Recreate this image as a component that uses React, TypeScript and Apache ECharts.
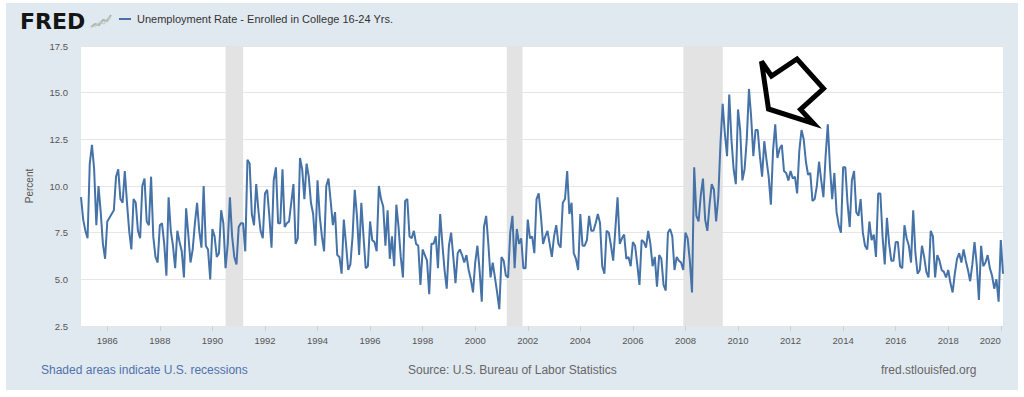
import React, { useEffect, useRef } from "react";
import * as echarts from "echarts";

// Monthly values (percent), Jan..Dec per year
const y1985 = [9.4, 8.2, 7.6, 7.2, 11.2, 12.2, 10.9, 7.9, 10.0, 8.6, 6.9, 6.1];
const y1986 = [8.1, 8.3, 8.5, 8.7, 10.5, 10.9, 9.3, 9.1, 10.8, 9.1, 7.6, 6.6];
const y1987 = [9.3, 9.1, 7.6, 7.2, 10.0, 10.4, 8.1, 7.9, 10.5, 7.3, 6.2, 5.9];
const y1988 = [7.9, 8.0, 6.9, 5.2, 9.4, 7.6, 6.8, 5.6, 7.6, 7.0, 6.5, 5.1];
const y1989 = [8.8, 7.4, 5.9, 6.6, 8.0, 9.1, 7.6, 6.7, 10.0, 6.8, 6.6, 5.0];
const y1990 = [7.7, 7.3, 6.2, 6.4, 8.7, 8.0, 5.6, 6.9, 9.4, 7.3, 6.2, 5.8];
const y1991 = [7.8, 8.0, 8.0, 6.5, 11.4, 11.2, 8.5, 7.9, 10.1, 8.7, 7.6, 7.2];
const y1992 = [9.6, 9.8, 8.4, 6.7, 10.3, 11.0, 8.0, 8.0, 10.9, 7.8, 8.0, 8.1];
const y1993 = [9.1, 10.1, 6.9, 7.2, 11.5, 10.9, 9.3, 11.2, 10.5, 9.1, 8.5, 6.8];
const y1994 = [10.3, 8.4, 7.3, 6.5, 10.0, 10.4, 9.2, 7.9, 8.6, 6.3, 6.2, 5.3];
const y1995 = [8.2, 6.9, 5.5, 5.8, 7.3, 9.8, 8.4, 6.3, 9.1, 7.3, 5.6, 5.7];
const y1996 = [8.1, 7.1, 7.0, 6.5, 10.0, 9.3, 8.9, 6.8, 8.7, 6.1, 7.3, 5.7];
const y1997 = [9.0, 7.8, 6.2, 5.1, 9.2, 9.3, 7.3, 7.2, 7.6, 6.9, 6.8, 4.7];
const y1998 = [6.6, 6.3, 6.0, 4.2, 6.9, 6.9, 7.3, 5.6, 8.5, 6.9, 5.5, 4.5];
const y1999 = [6.8, 7.5, 6.2, 4.8, 6.4, 6.6, 6.3, 5.9, 6.3, 5.5, 5.0, 4.3];
const y2000 = [5.9, 6.8, 5.5, 3.8, 7.8, 8.4, 6.9, 5.1, 5.9, 5.1, 4.3, 3.4];
const y2001 = [6.2, 6.0, 5.2, 5.1, 7.5, 8.4, 5.6, 7.7, 6.9, 7.2, 5.6, 5.6];
const y2002 = [8.2, 7.2, 7.3, 6.4, 9.3, 9.6, 8.4, 6.9, 7.3, 7.6, 6.9, 6.2];
const y2003 = [7.3, 7.9, 6.9, 6.7, 9.1, 9.3, 10.8, 8.5, 9.1, 6.4, 6.1, 5.5];
const y2004 = [8.5, 6.8, 6.8, 7.1, 8.4, 7.6, 7.6, 8.0, 8.5, 8.0, 5.7, 5.3];
const y2005 = [7.6, 7.5, 6.8, 6.0, 7.7, 9.4, 6.9, 7.2, 7.4, 6.1, 6.2, 5.7];
const y2006 = [7.0, 6.8, 5.8, 4.7, 7.1, 7.0, 6.7, 7.6, 6.9, 5.7, 6.2, 4.6];
const y2007 = [6.3, 6.1, 4.7, 4.4, 7.5, 7.7, 7.3, 5.5, 6.2, 6.0, 5.9, 5.5];
const y2008 = [7.5, 7.2, 6.0, 4.3, 11.0, 8.4, 8.1, 9.5, 10.4, 8.2, 7.6, 9.0];
const y2009 = [10.1, 9.8, 8.1, 9.4, 12.3, 14.4, 12.8, 11.6, 14.9, 12.5, 10.9, 10.1];
const y2010 = [14.1, 13.0, 10.3, 10.9, 12.5, 15.2, 13.7, 11.6, 13.0, 13.0, 11.6, 10.5];
const y2011 = [12.4, 11.4, 10.5, 9.0, 11.9, 13.3, 11.5, 12.0, 12.2, 10.8, 10.7, 10.3];
const y2012 = [10.8, 10.4, 10.5, 9.6, 11.9, 13.0, 12.5, 11.3, 10.6, 10.7, 9.2, 9.3];
const y2013 = [10.0, 11.3, 10.3, 9.4, 11.6, 13.3, 11.0, 9.3, 10.7, 8.6, 7.9, 7.5];
const y2014 = [11.0, 11.0, 9.1, 7.8, 10.3, 10.8, 8.6, 8.4, 9.3, 7.5, 6.8, 6.6];
const y2015 = [8.1, 7.1, 7.4, 6.2, 9.6, 9.6, 7.3, 5.8, 8.3, 6.9, 6.0, 6.0];
const y2016 = [7.0, 7.0, 5.7, 5.6, 7.9, 7.2, 6.8, 5.9, 8.7, 6.4, 5.3, 5.5];
const y2017 = [6.8, 6.2, 5.4, 5.1, 7.6, 7.3, 5.1, 6.3, 6.0, 5.5, 5.4, 5.1];
const y2018 = [5.5, 4.8, 4.3, 5.3, 6.1, 6.4, 5.9, 6.6, 6.0, 5.5, 4.9, 5.8];
const y2019 = [7.0, 5.8, 3.9, 6.8, 5.7, 5.9, 6.3, 5.6, 5.2, 4.5, 5.0, 3.8];
const y2020 = [7.1, 5.3];

const firstYear = 1985;
const yearlyValues = [
  y1985, y1986, y1987, y1988, y1989, y1990, y1991, y1992, y1993, y1994,
  y1995, y1996, y1997, y1998, y1999, y2000, y2001, y2002, y2003, y2004,
  y2005, y2006, y2007, y2008, y2009, y2010, y2011, y2012, y2013, y2014,
  y2015, y2016, y2017, y2018, y2019, y2020,
];

const xTickYears = [1986, 1988, 1990, 1992, 1994, 1996, 1998, 2000, 2002, 2004, 2006, 2008, 2010, 2012, 2014, 2016, 2018, 2020];

// Recession periods as [start, end] in decimal years
const recessions = [
  [1990.5, 1991.17],
  [2001.2, 2001.8],
  [2007.92, 2009.42],
];

const seriesName = "Unemployment Rate - Enrolled in College 16-24 Yrs.";

export default function App() {
  const ref = useRef<HTMLDivElement>(null);

  useEffect(() => {
    document.body.style.margin = "0";
    if (!ref.current) return;
    const chart = echarts.init(ref.current, undefined, { renderer: "svg" });

    const data: [number, number][] = [];
    yearlyValues.forEach((vals, yi) => {
      vals.forEach((v, m) => {
        data.push([firstYear + yi + m / 12, v]);
      });
    });
    const lastX = data[data.length - 1][0];

    const font = "Liberation Sans, Arial, sans-serif";

    chart.setOption({
      animation: false,
      backgroundColor: "transparent",
      grid: {
        left: 81,
        right: 21,
        top: 46,
        bottom: 71,
        show: true,
        backgroundColor: "#ffffff",
        borderWidth: 0,
      },
      xAxis: {
        type: "value",
        min: firstYear,
        max: lastX,
        splitLine: { show: false },
        axisLine: { show: false },
        axisTick: {
          show: true,
          customValues: xTickYears,
          length: 5,
          lineStyle: { color: "#c8d2dc" },
        },
        axisLabel: {
          customValues: xTickYears,
          formatter: (v: number) => String(Math.round(v)),
          fontSize: 9.5,
          fontFamily: font,
          color: "#555",
          margin: 9,
          alignMaxLabel: "right",
        },
      },
      yAxis: {
        type: "value",
        min: 2.5,
        max: 17.5,
        interval: 2.5,
        axisLine: { show: false },
        axisTick: { show: false },
        axisLabel: {
          formatter: (v: number) => v.toFixed(1),
          fontSize: 9.5,
          fontFamily: font,
          color: "#555",
          margin: 13,
        },
        splitLine: { lineStyle: { color: "#e6e6e6", width: 1 } },
      },
      series: [
        {
          type: "line",
          name: seriesName,
          data,
          showSymbol: false,
          symbol: "none",
          lineStyle: { color: "#4572a7", width: 2 },
          itemStyle: { color: "#4572a7" },
          markArea: {
            silent: true,
            itemStyle: { color: "#e3e3e3" },
            data: recessions.map(([a, b]) => [{ xAxis: a }, { xAxis: b }]),
          },
        },
      ],
      graphic: [
        {
          type: "text",
          x: 20,
          y: 21,
          style: {
            text: "FRED",
            fontFamily: "DejaVu Sans, sans-serif",
            fontWeight: "bold",
            fontSize: 22,
            fill: "#151515",
            verticalAlign: "middle",
          },
        },
        {
          type: "polyline",
          shape: { points: [[91, 27], [95, 24], [99, 25], [103, 20], [107, 21], [111, 15]] },
          style: { stroke: "#a9bba4", lineWidth: 2, fill: "none" },
        },
        {
          type: "polyline",
          shape: { points: [[91, 27], [96, 26], [100, 22], [104, 24], [108, 18], [111, 17]] },
          style: { stroke: "#c2c9d1", lineWidth: 1.2, fill: "none" },
        },
        {
          type: "line",
          shape: { x1: 119, y1: 19, x2: 131, y2: 19 },
          style: { stroke: "#4572a7", lineWidth: 2 },
        },
        {
          type: "text",
          x: 137,
          y: 19,
          style: {
            text: seriesName,
            fontFamily: font,
            fontSize: 11,
            fill: "#333",
            verticalAlign: "middle",
          },
        },
        {
          type: "text",
          x: 29,
          y: 186,
          rotation: Math.PI / 2,
          style: {
            text: "Percent",
            fontFamily: font,
            fontSize: 10,
            fill: "#555",
            align: "center",
            verticalAlign: "middle",
          },
        },
        {
          type: "text",
          x: 41,
          y: 370,
          style: {
            text: "Shaded areas indicate U.S. recessions",
            fontFamily: font,
            fontSize: 12,
            fill: "#4f72ac",
            verticalAlign: "middle",
          },
        },
        {
          type: "text",
          x: 408,
          y: 370,
          style: {
            text: "Source: U.S. Bureau of Labor Statistics",
            fontFamily: font,
            fontSize: 12,
            fill: "#666",
            verticalAlign: "middle",
          },
        },
        {
          type: "text",
          x: 881,
          y: 370,
          style: {
            text: "fred.stlouisfed.org",
            fontFamily: font,
            fontSize: 12,
            fill: "#666",
            verticalAlign: "middle",
          },
        },
        {
          type: "polygon",
          z: 100,
          shape: {
            points: [
              [761.5, 61.5],
              [771.5, 76],
              [797, 59],
              [823.5, 88.5],
              [800.5, 109.5],
              [813.5, 123.5],
              [768.5, 109],
            ],
          },
          style: { fill: "none", stroke: "#000", lineWidth: 5, lineJoin: "miter" },
        },
      ],
    });

    return () => chart.dispose();
  }, []);

  return (
    <div style={{ position: "relative", width: 1024, height: 397, background: "#ffffff" }}>
      <div
        style={{
          position: "absolute",
          left: 6,
          top: 3,
          width: 1012,
          height: 387,
          background: "#e1e9f0",
        }}
      />
      <div ref={ref} style={{ position: "absolute", left: 0, top: 0, width: 1024, height: 397 }} />
    </div>
  );
}
